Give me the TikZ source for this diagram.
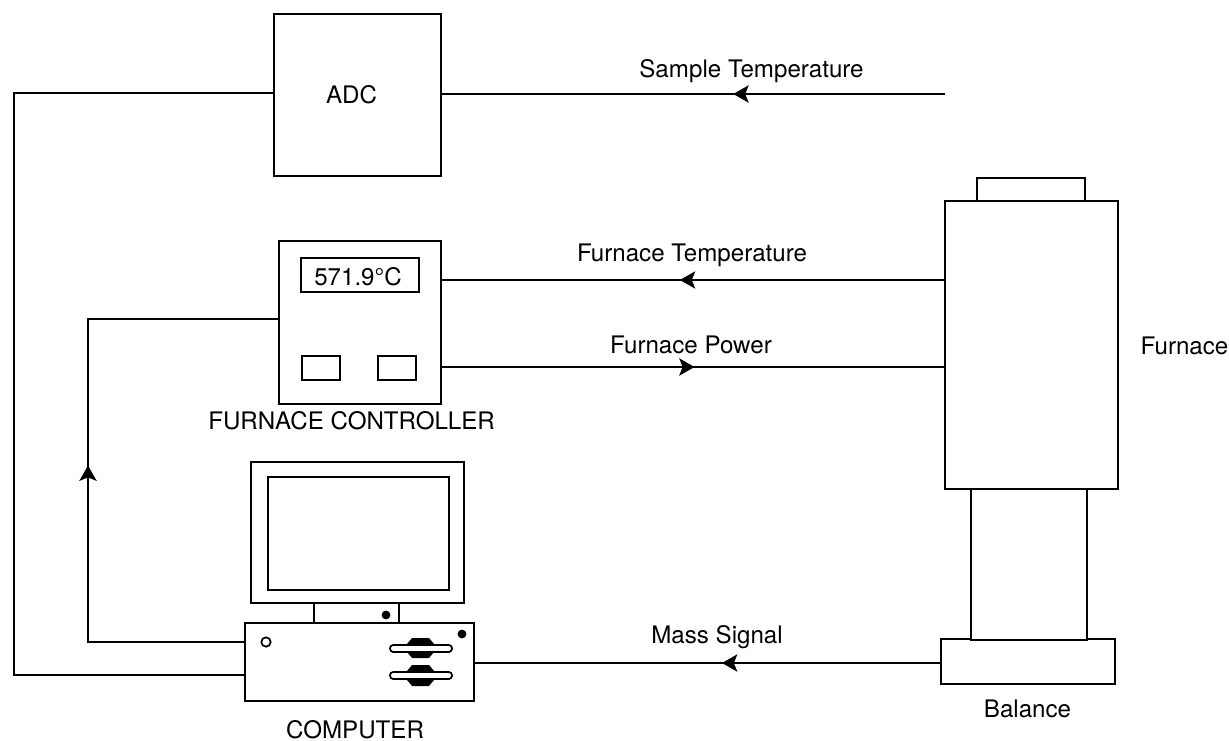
\documentclass[tikz,border=0pt]{standalone}
\usepackage{fontspec}
\setmainfont{TeX Gyre Heros}
\usetikzlibrary{arrows.meta,decorations.markings}
\tikzset{
  px/.style={x=0.75pt,y=-0.75pt},
  box/.style={draw=black,line width=1.3pt,fill=white,inner sep=0pt,outer sep=0pt,minimum width=#1},
  wire/.style={draw=black,line width=1.25pt},
  heavywire/.style={draw=black,line width=1.7pt},
  midarrow/.style={postaction={decorate},decoration={markings,mark=at position #1 with {\arrow{Stealth[length=11.5pt,width=13pt,inset=2.6pt]}}}},
  lbl/.style={inner sep=0pt,anchor=base,font=\fontsize{18.1pt}{20pt}\selectfont},
  dot/.style={circle,fill=black,inner sep=0pt,minimum size=6.6pt},
  ring/.style={circle,draw=black,line width=1.3pt,fill=white,inner sep=0pt,minimum size=7pt},
  slot/.style={rounded corners=2.4pt,draw=black,line width=1.3pt,fill=white},
  wedge/.style={fill=black,draw=none}
}
\begin{document}
\begin{tikzpicture}[px]
\useasboundingbox (0,0) rectangle (1229,741);
\fill[white] (0,0) rectangle (1229,741);
% ADC
\node[box={167*0.75pt},minimum height={162*0.75pt}] (adc) at (357.5,95) {};
\node[lbl] (adclabel) at (351.5,104) {ADC};
% Controller
\node[box={162*0.75pt},minimum height={163*0.75pt}] (ctrl) at (360,322.5) {};
\node[box={118*0.75pt},minimum height={34*0.75pt}] (disp) at (360,275) {};
\node[lbl] (disptext) at (358,285.5) {571.9°C};
\node[box={38*0.75pt},minimum height={24*0.75pt}] (btnA) at (321,368) {};
\node[box={38*0.75pt},minimum height={24*0.75pt}] (btnB) at (397,368) {};
\node[lbl] (ctrllabel) at (351.6,430) {FURNACE CONTROLLER};
% Monitor
\node[box={213*0.75pt},minimum height={141*0.75pt}] (mon) at (357.5,532.5) {};
\node[box={181*0.75pt},minimum height={113*0.75pt}] (screen) at (358.5,533.5) {};
\node[box={85*0.75pt},minimum height={20*0.75pt},line width=1.7pt] (stand) at (356.5,613) {};
\node[dot] (standdot) at (386,615) {};
% Computer
\node[box={229*0.75pt},minimum height={78*0.75pt}] (pc) at (359.5,662) {};
\node[ring] (pcring) at (266,642) {};
\node[dot] (pcdot) at (462,634) {};
\fill[wedge] (412,638) -- (429,638) -- (434,644) -- (434,652) -- (429,658) -- (412,658) -- (407,652) -- (407,644) -- cycle;
\draw[slot] (390,645) rectangle (452,652);
\fill[wedge] (412,665) -- (429,665) -- (434,671) -- (434,680) -- (429,686) -- (412,686) -- (407,680) -- (407,671) -- cycle;
\draw[slot] (390,672) rectangle (452,679);
\node[lbl] (pclabel) at (355,738) {COMPUTER};
% Furnace
\node[box={108*0.75pt},minimum height={23*0.75pt}] (cap) at (1031,189.5) {};
\node[box={174*0.75pt},minimum height={44.5*0.75pt}] (bal) at (1028,661.5) {};
\node[box={116*0.75pt},minimum height={151*0.75pt}] (neck) at (1029,564.5) {};
\node[box={173*0.75pt},minimum height={288*0.75pt}] (furn) at (1031.5,345) {};
\node[lbl] (furnlabel) at (1184.5,355) {Furnace};
\node[lbl] (ballabel) at (1027.5,717) {Balance};
% Free end
\coordinate (sampleend) at (945,94);
% Connectors
\draw[wire,midarrow=0.42] (sampleend) -- (adc.east |- sampleend);
\draw[wire,midarrow=0.526] (furn.west |- 0,280) -- (ctrl.east |- 0,280);
\draw[wire,midarrow=0.503] (ctrl.east |- 0,367) -- (furn.west |- 0,367);
\draw[wire,midarrow=0.469] (bal.west |- 0,663) -- (pc.east |- 0,663);
\draw[wire] (adc.west |- 0,93) -- (14,93) -- (14,675) -- (pc.west |- 0,675);
\draw[heavywire,midarrow=0.497] (pc.west |- 0,642) -- (88,642) -- (88,319) -- (ctrl.west |- 0,319);
% Signal labels
\node[lbl] (l1) at (751.5,77.7) {Sample Temperature};
\node[lbl] (l2) at (692,261.7) {Furnace Temperature};
\node[lbl] (l3) at (691,353.3) {Furnace Power};
\node[lbl] (l4) at (717,643.3) {Mass Signal};
\end{tikzpicture}
\end{document}
